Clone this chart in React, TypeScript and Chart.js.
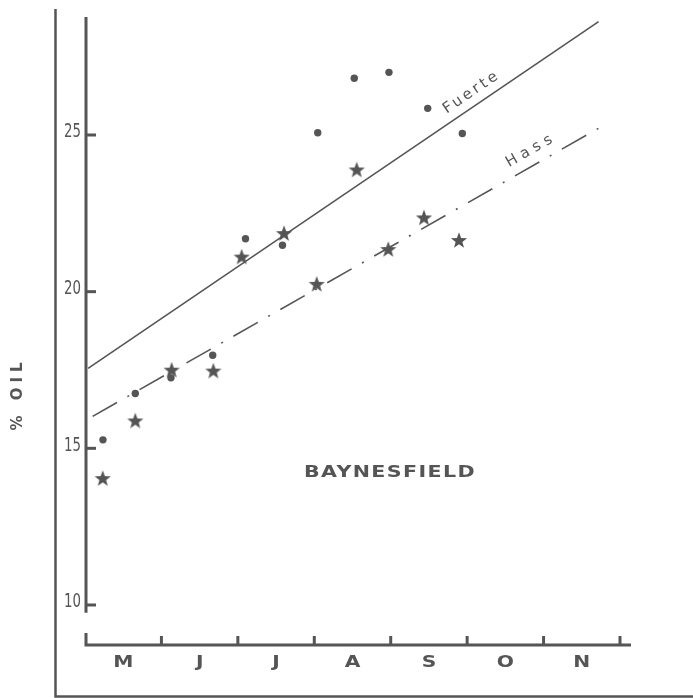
import React, { useEffect, useRef } from 'react';
import { Chart, registerables } from 'chart.js';

Chart.register(...registerables);

// ---- data (x = months since 1 May, y = % oil) ----
const months = ['M', 'J', 'J', 'A', 'S', 'O', 'N'];
const yTicks = [10, 15, 20, 25];

const fuerteX = [0.235, 0.658, 1.125, 1.671, 2.1, 2.584, 3.045, 3.523, 3.977, 4.484, 4.937];
const fuerteY = [15.27, 16.75, 17.25, 17.97, 21.69, 21.48, 25.07, 26.81, 27.0, 25.85, 25.05];

const hassX = [0.232, 0.658, 1.134, 1.679, 2.05, 2.604, 3.032, 3.555, 3.968, 4.435, 4.893];
const hassY = [14.05, 15.89, 17.51, 17.48, 21.12, 21.87, 20.25, 23.9, 21.36, 22.37, 21.65];

const fuerteLineX = [0.04, 6.72];
const fuerteLineY = [17.55, 28.62];
const hassLineX = [0.1, 6.76];
const hassLineY = [16.02, 25.27];

const title = 'BAYNESFIELD';
const yTitle = '% OIL';
const fuerteLabel = 'Fuerte';
const hassLabel = 'Hass';

const INK = '#555555';

function zip(xs: number[], ys: number[]) {
  return xs.map((x, i) => ({ x, y: ys[i] }));
}

function makeStar(size: number, color: string) {
  const c = document.createElement('canvas');
  c.width = size;
  c.height = size;
  const g = c.getContext('2d')!;
  const cx = size / 2, cy = size / 2 + 0.8;
  const R = size / 2 - 0.5, r = R * 0.42;
  g.beginPath();
  for (let i = 0; i < 10; i++) {
    const rad = i % 2 === 0 ? R : r;
    const a = -Math.PI / 2 + (i * Math.PI) / 5;
    const px = cx + rad * Math.cos(a), py = cy + rad * Math.sin(a);
    if (i === 0) g.moveTo(px, py); else g.lineTo(px, py);
  }
  g.closePath();
  g.fillStyle = color;
  g.fill();
  return c;
}

const paperPlugin = {
  id: 'paper',
  beforeDatasetsDraw(chart: any) {
    const ctx = chart.ctx as CanvasRenderingContext2D;
    const xs = chart.scales.x;
    const ys = chart.scales.y;
    ctx.save();
    ctx.strokeStyle = INK;
    ctx.fillStyle = INK;
    ctx.lineCap = 'butt';

    // outer frame (left + bottom)
    ctx.lineWidth = 2.5;
    ctx.beginPath();
    ctx.moveTo(55.5, 9);
    ctx.lineTo(55.5, 696.5);
    ctx.lineTo(693, 696.5);
    ctx.stroke();

    // y axis
    const ax = xs.getPixelForValue(0) + 1;
    ctx.lineWidth = 3;
    ctx.beginPath();
    ctx.moveTo(ax, ys.top);
    ctx.lineTo(ax, ys.getPixelForValue(9.75));
    ctx.stroke();
    ctx.font = "19px 'DejaVu Sans Condensed', 'Liberation Sans Narrow', sans-serif";
    ctx.textAlign = 'right';
    ctx.textBaseline = 'middle';
    yTicks.forEach((v) => {
      const py = ys.getPixelForValue(v);
      ctx.beginPath();
      ctx.moveTo(ax, py);
      ctx.lineTo(ax + 10, py);
      ctx.stroke();
      ctx.save();
      ctx.translate(ax - 5, py - 3);
      ctx.scale(0.78, 1.05);
      ctx.fillText(String(v), 0, 0);
      ctx.restore();
    });

    // x axis
    const by = ys.bottom;
    ctx.beginPath();
    ctx.moveTo(ax, by - 12);
    ctx.lineTo(ax, by);
    ctx.lineTo(xs.getPixelForValue(7) + 11, by);
    ctx.stroke();
    for (let i = 1; i <= months.length; i++) {
      const px = xs.getPixelForValue(i);
      ctx.beginPath();
      ctx.moveTo(px, by);
      ctx.lineTo(px, by - 9);
      ctx.stroke();
    }
    ctx.font = "bold 15px 'DejaVu Sans', sans-serif";
    ctx.textAlign = 'center';
    ctx.textBaseline = 'middle';
    months.forEach((m, i) => {
      const px = xs.getPixelForValue(i + 0.5);
      ctx.save();
      ctx.translate(px, by + 18);
      ctx.scale(1.35, 1);
      ctx.fillText(m, 0, 0);
      ctx.restore();
    });

    // y title
    ctx.save();
    ctx.translate(18, 394);
    ctx.rotate(-Math.PI / 2);
    ctx.font = "bold 15px 'DejaVu Sans', sans-serif";
    (ctx as any).letterSpacing = '5px';
    ctx.textAlign = 'center';
    ctx.textBaseline = 'middle';
    ctx.fillText(yTitle, 0, 0);
    ctx.restore();

    // BAYNESFIELD
    ctx.save();
    ctx.font = "bold 15px 'DejaVu Sans', sans-serif";
    (ctx as any).letterSpacing = '1px';
    const w = ctx.measureText(title).width;
    ctx.translate(xs.getPixelForValue(3.99), ys.getPixelForValue(14.2));
    ctx.scale(172 / w, 1);
    ctx.textAlign = 'center';
    ctx.textBaseline = 'middle';
    ctx.fillText(title, 0, 0);
    ctx.restore();

    // line labels
    const drawAlong = (text: string, lx: number[], ly: number[], px: number, py: number, spacing: string) => {
      const x0 = xs.getPixelForValue(lx[0]), y0 = ys.getPixelForValue(ly[0]);
      const x1 = xs.getPixelForValue(lx[1]), y1 = ys.getPixelForValue(ly[1]);
      const ang = Math.atan2(y1 - y0, x1 - x0);
      ctx.save();
      ctx.translate(xs.getPixelForValue(px), ys.getPixelForValue(py));
      ctx.rotate(ang);
      ctx.font = "15px 'DejaVu Sans', sans-serif";
      (ctx as any).letterSpacing = spacing;
      ctx.textAlign = 'center';
      ctx.textBaseline = 'middle';
      ctx.fillText(text, 0, 0);
      ctx.restore();
    };
    drawAlong(fuerteLabel, fuerteLineX, fuerteLineY, 5.06, 26.37, '3px');
    drawAlong(hassLabel, hassLineX, hassLineY, 5.84, 24.52, '5px');

    ctx.restore();
  },
};

export default function App() {
  const ref = useRef<HTMLCanvasElement | null>(null);
  useEffect(() => {
    if (!ref.current) return;
    const star = makeStar(18, INK);
    const chart = new Chart(ref.current, {
      type: 'scatter',
      data: {
        datasets: [
          {
            label: 'Fuerte fit',
            data: zip(fuerteLineX, fuerteLineY),
            showLine: true,
            borderColor: INK,
            borderWidth: 1.6,
            pointRadius: 0,
            order: 3,
          },
          {
            label: 'Hass fit',
            data: zip(hassLineX, hassLineY),
            showLine: true,
            borderColor: INK,
            borderWidth: 1.6,
            borderDash: [28, 12, 2, 12],
            pointRadius: 0,
            order: 3,
          },
          {
            label: 'Fuerte',
            data: zip(fuerteX, fuerteY),
            pointRadius: 3.7,
            pointBackgroundColor: INK,
            pointBorderColor: INK,
            pointBorderWidth: 0,
            order: 1,
          },
          {
            label: 'Hass',
            data: zip(hassX, hassY),
            pointStyle: star as any,
            pointRadius: 9,
            order: 1,
          },
        ],
      },
      options: {
        animation: false,
        responsive: false,
        layout: { padding: { left: 85, right: 73, top: 17, bottom: 53 } },
        scales: {
          x: { type: 'linear', min: 0, max: 7, display: false },
          y: { type: 'linear', min: 8.723, max: 28.766, display: false },
        },
        plugins: { legend: { display: false }, tooltip: { enabled: false } },
      },
      plugins: [paperPlugin],
    });
    return () => chart.destroy();
  }, []);
  return (
    <div style={{ position: 'fixed', left: 0, top: 0, width: 693, height: 698, background: '#fff' }}>
      <canvas ref={ref} width={693} height={698} style={{ display: 'block' }} />
    </div>
  );
}
